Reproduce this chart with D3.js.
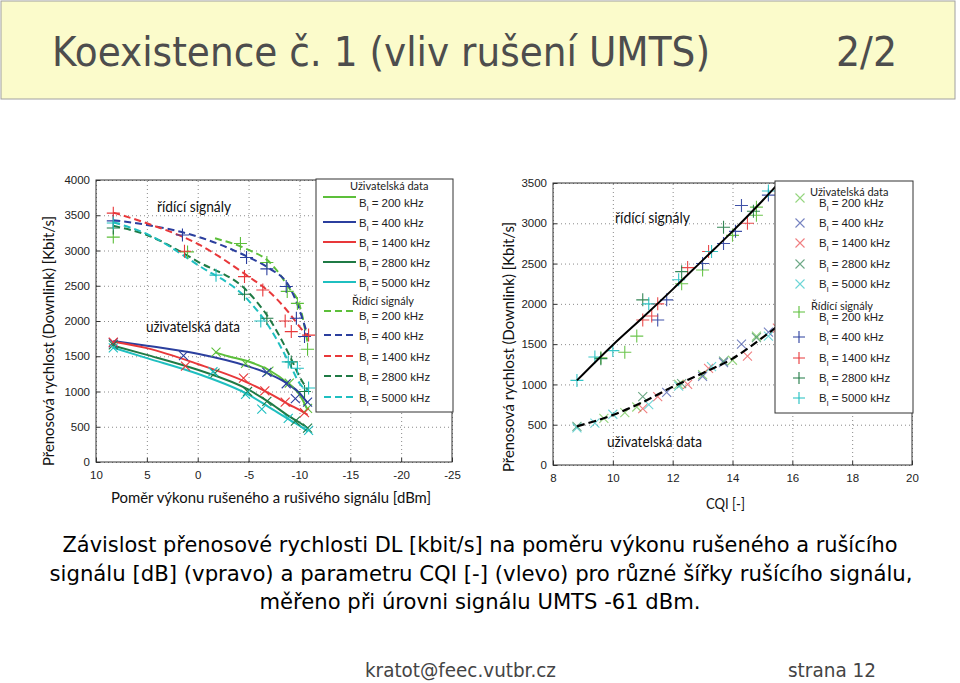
<!DOCTYPE html>
<html><head><meta charset="utf-8">
<script src="https://cdn.jsdelivr.net/npm/d3@7"></script>
<style>body{margin:0;background:#fff}svg{display:block}</style>
</head><body><svg id="s" width="960" height="683"></svg>
<script>
// ---------- DATA ----------
const bandwidths = ["200", "400", "1400", "2800", "5000"];
const sirTicks = [10, 5, 0, -5, -10, -15, -20, -25];
const rateTicksL = [0, 500, 1000, 1500, 2000, 2500, 3000, 3500, 4000];
const cqiTicks = [8, 10, 12, 14, 16, 18, 20];
const rateTicksR = [0, 500, 1000, 1500, 2000, 2500, 3000, 3500];

// Left chart: fitted curves, user data (solid) [SIR dB, kbit/s]
const userFit200  = [[-1.7,1555],[-3,1500],[-5,1425],[-7,1305],[-9,1100],[-10,960],[-10.8,740]];
const userFit400  = [[8.3,1715],[5,1650],[0,1535],[-5,1355],[-7,1250],[-9,1095],[-10,980],[-10.8,836]];
const userFit1400 = [[8.3,1705],[5,1615],[0,1390],[-5,1120],[-7,978],[-9,812],[-10,740],[-10.8,670]];
const userFit2800 = [[8.3,1650],[5,1520],[0,1308],[-5,1025],[-7,850],[-9,647],[-10,560],[-10.8,482]];
const userFit5000 = [[8.3,1620],[5,1473],[0,1251],[-5,954],[-7,779],[-9,600],[-10,515],[-10.8,434]];
// Left chart: fitted curves, control signals (dashed)
const ctrlFit200  = [[-1.7,3173],[-5,3008],[-7,2843],[-9,2465],[-10,2229],[-10.8,1700]];
const ctrlFit400  = [[8.3,3430],[5,3363],[0,3197],[-5,2904],[-7,2749],[-9,2489],[-10,2158],[-10.8,1800]];
const ctrlFit1400 = [[8.3,3537],[5,3386],[0,3093],[-5,2630],[-7,2418],[-9,2111],[-10,1922],[-10.8,1780]];
const ctrlFit2800 = [[8.3,3350],[5,3220],[0,2843],[-5,2404],[-7,2040],[-9,1520],[-10,1214],[-10.8,1025]];
const ctrlFit5000 = [[8.3,3400],[5,3235],[0,2796],[-5,2290],[-7,1922],[-9,1403],[-10,1119],[-10.8,1000]];
// Left chart: measured points
const userPts200  = [[-1.8,1560],[-4.7,1400],[-7,1290],[-9,1120],[-10.8,760]];
const userPts400  = [[8.3,1690],[1.4,1510],[-6.8,1270],[-8.7,1110],[-9.6,900],[-10.8,850]];
const userPts1400 = [[8.3,1700],[1.2,1360],[-4.5,1190],[-6.6,1010],[-8.6,850],[-10.5,700]];
const userPts2800 = [[8.3,1660],[-1.7,1260],[-4.9,1000],[-6.8,860],[-9.6,580],[-10.8,480]];
const userPts5000 = [[8.3,1620],[-1.5,1280],[-4.7,960],[-6.3,750],[-8.9,620],[-10.9,450]];
const ctrlPts200  = [[8.3,3190],[1.0,2980],[-4.2,3100],[-6.8,2830],[-8.8,2420],[-9.8,2250],[-10.8,1600]];
const ctrlPts400  = [[8.3,3420],[1.5,3220],[-4.8,2900],[-6.8,2740],[-8.7,2490],[-9.7,2040],[-10.5,1780]];
const ctrlPts1400 = [[8.3,3530],[1.3,2990],[-4.6,2630],[-6.4,2440],[-8.6,2000],[-9.2,1850],[-10.9,1800]];
const ctrlPts2800 = [[8.3,3320],[-4.6,2380],[-6.8,2040],[-9.2,1420],[-10.5,1000]];
const ctrlPts5000 = [[8.3,3390],[-1.8,2650],[-6.2,2000],[-8.9,1420],[-9.8,1330],[-10.9,1050]];

// Right chart: fits [CQI, kbit/s]
const cqiCtrlFit = [[8.8,1050],[10,1490],[11,1830],[12,2180],[13,2540],[14,2900],[15,3280],[15.5,3480]];
const cqiUserFit = [[8.8,480],[10,620],[11,780],[12,970],[13,1140],[14,1320],[15,1580],[15.5,1720]];
// Right chart: measured points
const cqiCtrl200  = [[9.6,1330],[10.4,1400],[10.8,1600],[12.3,2250],[13,2420],[14,2850],[14.8,3100],[14.8,3200]];
const cqiCtrl400  = [[11.5,1800],[11.8,2050],[13,2500],[13.7,2750],[14.1,2900],[14.3,3220],[15.2,3350]];
const cqiCtrl1400 = [[11,1800],[11.3,1850],[11.5,2000],[12.5,2450],[13.2,2650],[14.5,3000]];
const cqiCtrl2800 = [[9.6,1320],[11,2050],[12.3,2400],[13.7,2950],[14.7,3150]];
const cqiCtrl5000 = [[8.8,1050],[9.4,1340],[10,1420],[11.2,2000],[12.2,2300],[13.3,2650],[15.2,3400]];
const cqiUser200  = [[9.7,580],[10.4,650],[10.8,720],[12.2,1000],[13,1120],[14,1300],[14.8,1600]];
const cqiUser400  = [[11.8,900],[13,1100],[13.7,1270],[14.3,1500],[15.2,1650]];
const cqiUser1400 = [[11,700],[11.5,850],[12.5,1000],[13.2,1200],[14.5,1350],[15.5,1700]];
const cqiUser2800 = [[8.8,480],[11,850],[12.3,1010],[13.7,1290],[14.8,1580]];
const cqiUser5000 = [[8.8,460],[9.4,520],[10,630],[11.2,750],[12.2,980],[13.3,1220],[15.2,1600]];

// ---------- STYLE ----------
const colors = ["#5cbf3a", "#2b3f9e", "#e8383a", "#1f7a45", "#1fbfc0"];
const svg = d3.select("#s");

function fitText(sel, w) { sel.attr("textLength", w).attr("lengthAdjust", "spacingAndGlyphs"); }

// Header
svg.append("rect").attr("x", 1).attr("y", 1).attr("width", 954).attr("height", 98)
  .attr("fill", "#fbfbcb").attr("stroke", "#a0a0a0");
svg.append("text").attr("x", 52).attr("y", 66).attr("font-family", "DejaVu Sans")
  .attr("font-size", 40).attr("fill", "#4d4d4d").text("Koexistence č. 1 (vliv rušení UMTS)").call(fitText, 658);
svg.append("text").attr("x", 836).attr("y", 66).attr("font-family", "DejaVu Sans")
  .attr("font-size", 40).attr("fill", "#4d4d4d").text("2/2").call(fitText, 61);

// Caption
const capLines = [
  ["Závislost přenosové rychlosti DL [kbit/s] na poměru výkonu rušeného a rušícího", 480, 552, 835],
  ["signálu [dB] (vpravo) a parametru CQI [-] (vlevo) pro různé šířky rušícího signálu,", 481, 581, 863],
  ["měřeno při úrovni signálu UMTS -61 dBm.", 480, 609, 441]];
capLines.forEach(([t, x, y, w]) => svg.append("text").attr("x", x - w / 2).attr("y", y)
  .attr("font-family", "DejaVu Sans").attr("font-size", 22).attr("fill", "#000").text(t).call(fitText, w));

// Footer
svg.append("text").attr("x", 365).attr("y", 677).attr("font-family", "DejaVu Sans").attr("font-size", 20)
  .attr("fill", "#444").text("kratot@feec.vutbr.cz").call(fitText, 191);
svg.append("text").attr("x", 788).attr("y", 677).attr("font-family", "DejaVu Sans").attr("font-size", 20)
  .attr("fill", "#444").text("strana 12").call(fitText, 88);

const plusPath = s => `M${-s},0H${s}M0,${-s}V${s}`;
const xPath = s => `M${-s},${-s}L${s},${s}M${-s},${s}L${s},${-s}`;
const plainFmt = d => String(d);

function drawAxes(g, x, y, xt, yt, W, H) {
  g.append("g").attr("transform", `translate(0,${H})`)
    .call(d3.axisBottom(x).tickValues(xt).tickSize(-H).tickFormat(""))
    .call(a => a.select(".domain").remove())
    .selectAll("line").attr("stroke", "#8a8a8a").attr("stroke-dasharray", "1,3");
  g.append("g").call(d3.axisLeft(y).tickValues(yt).tickSize(-W).tickFormat(""))
    .call(a => a.select(".domain").remove())
    .selectAll("line").attr("stroke", "#8a8a8a").attr("stroke-dasharray", "1,3");
  const ax = g.append("g").attr("transform", `translate(0,${H})`)
    .call(d3.axisBottom(x).tickValues(xt).tickSize(-4).tickPadding(9).tickFormat(plainFmt));
  const ay = g.append("g").call(d3.axisLeft(y).tickValues(yt).tickSize(-4).tickPadding(6).tickFormat(plainFmt));
  [ax, ay].forEach(a => {
    a.select(".domain").remove();
    a.selectAll("line").attr("stroke", "#333");
    a.selectAll("text").attr("font-family", "Liberation Sans").attr("font-size", 11.5).attr("fill", "#222");
  });
  g.append("rect").attr("width", W).attr("height", H).attr("fill", "none").attr("stroke", "#333");
}

function marks(g, pts, x, y, shape, color, op) {
  g.append("g").selectAll("path").data(pts).join("path")
    .attr("transform", d => `translate(${x(d[0])},${y(d[1])})`)
    .attr("d", shape).attr("fill", "none").attr("stroke", color).attr("stroke-width", 1.1).attr("opacity", op);
}

function legendBl(g, x, y, bw) {
  const t = g.append("text").attr("x", x).attr("y", y).attr("font-family", "Liberation Sans")
    .attr("font-size", 11.5).attr("fill", "#222");
  t.append("tspan").text("B");
  t.append("tspan").attr("font-size", 8).attr("dy", 4).text("l");
  t.append("tspan").attr("dy", -4).text(` = ${bw} kHz`);
}

// ---------- LEFT CHART ----------
{
  const L = 96, T = 180, W = 356, H = 282;
  const g = svg.append("g").attr("transform", `translate(${L},${T})`);
  const x = d3.scaleLinear().domain([10, -25]).range([0, W]);
  const y = d3.scaleLinear().domain([0, 4000]).range([H, 0]);
  drawAxes(g, x, y, sirTicks, rateTicksL, W, H);
  const line = d3.line().x(d => x(d[0])).y(d => y(d[1])).curve(d3.curveMonotoneX);
  const uf = [userFit200, userFit400, userFit1400, userFit2800, userFit5000];
  const cf = [ctrlFit200, ctrlFit400, ctrlFit1400, ctrlFit2800, ctrlFit5000];
  const up = [userPts200, userPts400, userPts1400, userPts2800, userPts5000];
  const cp = [ctrlPts200, ctrlPts400, ctrlPts1400, ctrlPts2800, ctrlPts5000];
  cf.forEach((d, i) => g.append("path").attr("d", line(d)).attr("fill", "none").attr("stroke", colors[i])
    .attr("stroke-width", 2).attr("stroke-dasharray", "7,4"));
  uf.forEach((d, i) => g.append("path").attr("d", line(d)).attr("fill", "none").attr("stroke", colors[i])
    .attr("stroke-width", 2));
  cp.forEach((d, i) => marks(g, d, x, y, plusPath(6.5), colors[i], 1));
  up.forEach((d, i) => marks(g, d, x, y, xPath(4.5), colors[i], 1));

  svg.append("text").attr("x", 157).attr("y", 212).attr("font-family", "Lato").attr("font-size", 15)
    .attr("fill", "#111").text("řídící signály").call(fitText, 74);
  svg.append("text").attr("x", 146).attr("y", 332).attr("font-family", "Lato").attr("font-size", 15)
    .attr("fill", "#111").text("uživatelská data").call(fitText, 94);
  svg.append("text").attr("transform", "translate(54,341) rotate(-90)")
    .attr("x", -125).attr("font-family", "Lato").attr("font-size", 16).attr("fill", "#111")
    .text("Přenosová rychlost (Downlink) [Kbit/s]").call(fitText, 250);
  svg.append("text").attr("x", 111).attr("y", 503).attr("font-family", "Lato").attr("font-size", 16)
    .attr("fill", "#111").text("Poměr výkonu rušeného a rušivého signálu [dBm]").call(fitText, 320);

  const lg = svg.append("g");
  lg.append("rect").attr("x", 316).attr("y", 179).attr("width", 137).attr("height", 233)
    .attr("fill", "#fff").attr("stroke", "#333");
  lg.append("text").attr("x", 350).attr("y", 190).attr("font-family", "Lato").attr("font-size", 11)
    .attr("fill", "#222").text("Uživatelská data");
  const uy = [203, 223, 243, 263, 283], cy = [316, 336, 357, 377, 398];
  bandwidths.forEach((b, i) => {
    const ly = i === 0 ? 197 : uy[i] - 1;
    lg.append("line").attr("x1", 323).attr("x2", 356).attr("y1", ly).attr("y2", ly)
      .attr("stroke", colors[i]).attr("stroke-width", 2);
    legendBl(lg, 359, uy[i] + 4, b);
  });
  lg.append("text").attr("x", 352).attr("y", 305).attr("font-family", "Lato").attr("font-size", 11)
    .attr("fill", "#222").text("Řídící signály");
  bandwidths.forEach((b, i) => {
    const ly = i === 0 ? 311 : cy[i] - 1;
    lg.append("line").attr("x1", 324).attr("x2", 356).attr("y1", ly).attr("y2", ly)
      .attr("stroke", colors[i]).attr("stroke-width", 2).attr("stroke-dasharray", "7,4");
    legendBl(lg, 359, cy[i] + 4, b);
  });
}

// ---------- RIGHT CHART ----------
{
  const L = 553, T = 183, W = 359, H = 282;
  const g = svg.append("g").attr("transform", `translate(${L},${T})`);
  const x = d3.scaleLinear().domain([8, 20]).range([0, W]);
  const y = d3.scaleLinear().domain([0, 3500]).range([H, 0]);
  drawAxes(g, x, y, cqiTicks, rateTicksR, W, H);
  const line = d3.line().x(d => x(d[0])).y(d => y(d[1])).curve(d3.curveMonotoneX);
  const cp = [cqiCtrl200, cqiCtrl400, cqiCtrl1400, cqiCtrl2800, cqiCtrl5000];
  const up = [cqiUser200, cqiUser400, cqiUser1400, cqiUser2800, cqiUser5000];
  cp.forEach((d, i) => marks(g, d, x, y, plusPath(6.5), colors[i], 0.9));
  up.forEach((d, i) => marks(g, d, x, y, xPath(4.5), colors[i], 0.65));
  g.append("path").attr("d", line(cqiCtrlFit)).attr("fill", "none").attr("stroke", "#000").attr("stroke-width", 2);
  g.append("path").attr("d", line(cqiUserFit)).attr("fill", "none").attr("stroke", "#000").attr("stroke-width", 2.2)
    .attr("stroke-dasharray", "8,4");

  svg.append("text").attr("x", 615).attr("y", 223).attr("font-family", "Lato").attr("font-size", 15)
    .attr("fill", "#111").text("řídící signály").call(fitText, 75);
  svg.append("text").attr("x", 607).attr("y", 447).attr("font-family", "Lato").attr("font-size", 15)
    .attr("fill", "#111").text("uživatelská data").call(fitText, 95);
  svg.append("text").attr("transform", "translate(514,347) rotate(-90)")
    .attr("x", -125).attr("font-family", "Lato").attr("font-size", 16).attr("fill", "#111")
    .text("Přenosová rychlost (Downlink) [Kbit/s]").call(fitText, 250);
  svg.append("text").attr("x", 706).attr("y", 509).attr("font-family", "Lato").attr("font-size", 15)
    .attr("fill", "#111").text("CQI [-]").call(fitText, 39);

  const lg = svg.append("g");
  lg.append("rect").attr("x", 775).attr("y", 181).attr("width", 138).attr("height", 232)
    .attr("fill", "#fff").attr("stroke", "#333");
  lg.append("text").attr("x", 810).attr("y", 196).attr("font-family", "Lato").attr("font-size", 11)
    .attr("fill", "#222").text("Uživatelská data");
  const uy = [203, 223, 243, 264, 284], cy = [317, 337, 358, 378, 398];
  bandwidths.forEach((b, i) => {
    const my = i === 0 ? 198 : uy[i];
    lg.append("path").attr("transform", `translate(800,${my})`).attr("d", xPath(4.5)).attr("fill", "none")
      .attr("stroke", colors[i]).attr("opacity", 0.65).attr("stroke-width", 1.1);
    legendBl(lg, 819, uy[i] + 4, b);
  });
  lg.append("text").attr("x", 811).attr("y", 310).attr("font-family", "Lato").attr("font-size", 11)
    .attr("fill", "#222").text("Řídící signály");
  bandwidths.forEach((b, i) => {
    const my = i === 0 ? 312 : cy[i];
    lg.append("path").attr("transform", `translate(799,${my})`).attr("d", plusPath(6)).attr("fill", "none")
      .attr("stroke", colors[i]).attr("stroke-width", 1.1);
    legendBl(lg, 819, cy[i] + 4, b);
  });
}
</script></body></html>
